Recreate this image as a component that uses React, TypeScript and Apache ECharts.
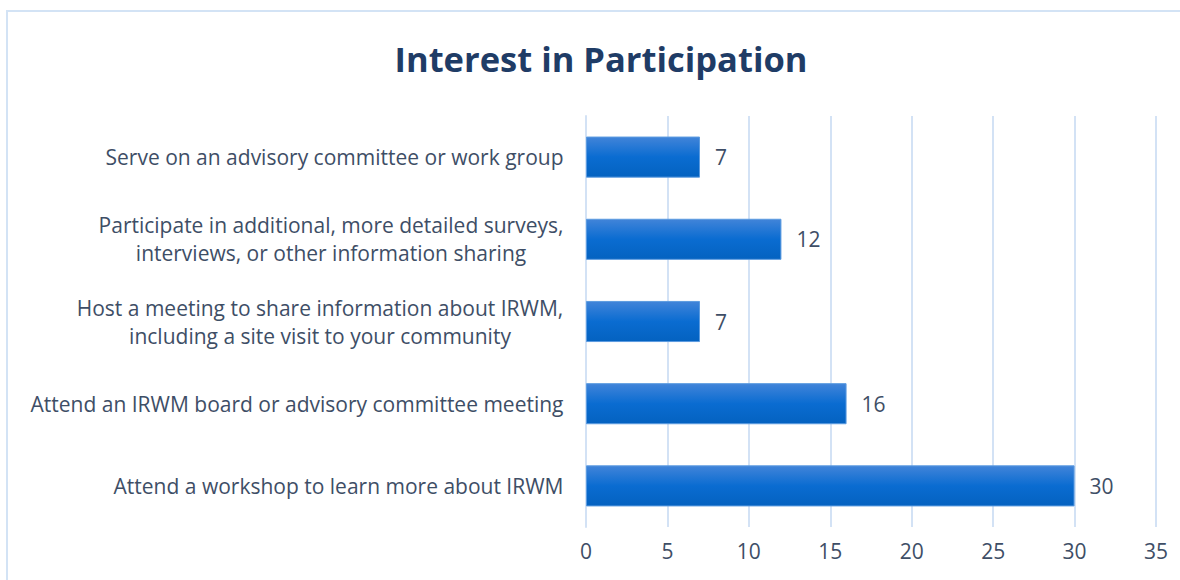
import React, { useEffect, useRef } from "react";
import * as echarts from "echarts";

const categories = [
  "Attend a workshop to learn more about IRWM",
  "Attend an IRWM board or advisory committee meeting",
  "Host a meeting to share information about IRWM,\nincluding a site visit to your community",
  "Participate in additional, more detailed surveys,\ninterviews, or other information sharing",
  "Serve on an advisory committee or work group",
];
const values = [30, 16, 7, 12, 7];
const xTicks = [0, 5, 10, 15, 20, 25, 30, 35];

const FONT = "'Open Sans', 'Noto Sans', sans-serif";
const LABEL_SIZE = 21;
const LABEL_COLOR = "#3E4E66";

function measure(text: string): number {
  try {
    const ctx = document.createElement("canvas").getContext("2d");
    if (ctx) {
      ctx.font = `${LABEL_SIZE}px ${FONT}`;
      return Math.ceil(ctx.measureText(text).width) + 1;
    }
  } catch (e) {}
  return text.length * 10;
}

export default function App() {
  const ref = useRef<HTMLDivElement>(null);
  useEffect(() => {
    if (!ref.current) return;
    const chart = echarts.init(ref.current, undefined, { renderer: "svg" });
    const rich: Record<string, any> = {};
    categories.forEach((c, i) => {
      const lines = c.split("\n");
      const w = Math.max(...lines.map(measure));
      rich["c" + i] = {
        width: w,
        align: "center",
        fontFamily: FONT,
        fontSize: LABEL_SIZE,
        color: LABEL_COLOR,
        lineHeight: 28,
      };
    });
    chart.setOption({
      animation: false,
      backgroundColor: "#ffffff",
      title: {
        text: "Interest in Participation",
        left: 596,
        textAlign: "center",
        top: 36,
        textStyle: { fontFamily: FONT, fontSize: 34.5, fontWeight: "bold", color: "#1F3C66" },
      },
      graphic: [
        {
          type: "rect",
          shape: { x: 7, y: 11, width: 1200, height: 600 },
          style: { fill: "none", stroke: "#D3E3F5", lineWidth: 2 },
          silent: true,
        },
      ],
      grid: { left: 586, right: 24, top: 116, bottom: 53, containLabel: false },
      xAxis: {
        type: "value",
        min: xTicks[0],
        max: xTicks[xTicks.length - 1],
        interval: 5,
        axisLine: { show: false },
        axisTick: { show: false },
        splitLine: { show: true, lineStyle: { color: "#D3E2F5", width: 2 } },
        axisLabel: { fontFamily: FONT, fontSize: LABEL_SIZE, color: LABEL_COLOR, margin: 13 },
      },
      yAxis: {
        type: "category",
        data: categories,
        axisLine: { show: true, lineStyle: { color: "#D3E2F5", width: 2 } },
        axisTick: { show: false },
        axisLabel: {
          fontFamily: FONT,
          fontSize: LABEL_SIZE,
          color: LABEL_COLOR,
          margin: 22,
          lineHeight: 28,
          align: "right",
          formatter: (value: string, index: number) =>
            value
              .split("\n")
              .map((l) => `{c${index}|${l}}`)
              .join("\n"),
          rich,
        },
      },
      series: [
        {
          type: "bar",
          data: values,
          barCategoryGap: "50%",
          itemStyle: {
            color: new echarts.graphic.LinearGradient(0, 0, 0, 1, [
              { offset: 0, color: "#4184D9" },
              { offset: 0.5, color: "#0A6CD1" },
              { offset: 1, color: "#0462C0" },
            ]),
            borderColor: "#5B9BE0",
            borderWidth: 1,
          },
          label: {
            show: true,
            position: "right",
            distance: 15,
            fontFamily: FONT,
            fontSize: LABEL_SIZE,
            color: LABEL_COLOR,
          },
        },
      ],
    });
    return () => chart.dispose();
  }, []);
  return (
    <div
      ref={ref}
      style={{ position: "fixed", left: 0, top: 0, width: 1180, height: 580 }}
    />
  );
}
